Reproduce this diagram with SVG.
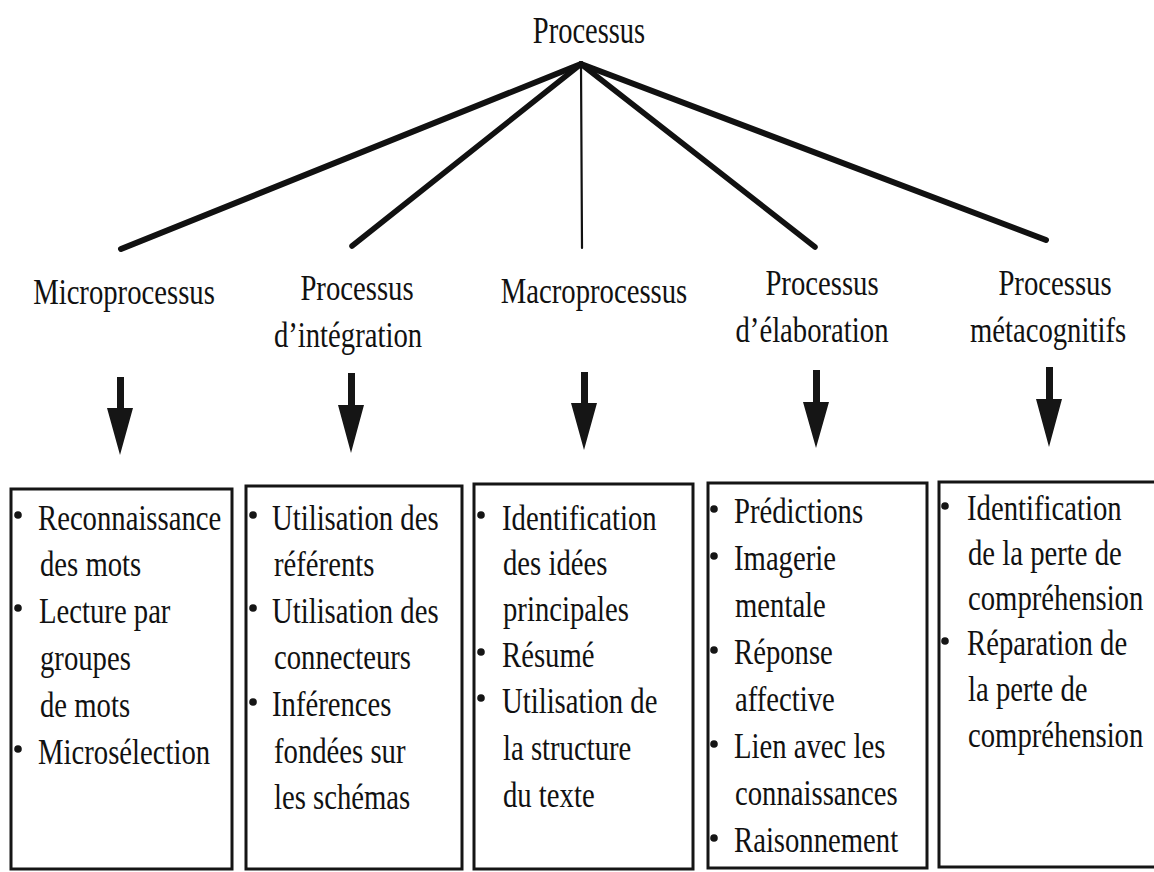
<svg xmlns="http://www.w3.org/2000/svg" width="1154" height="872" viewBox="0 0 1154 872">
<style>
.t{font-family:"Liberation Serif","Times New Roman",serif;font-size:35px;fill:#111}
.top{font-size:37px}
.c{text-anchor:middle}
.box{fill:none;stroke:#151515;stroke-width:3}
.b{fill:#151515}
.ln{stroke:#111;stroke-linecap:round;fill:none}
.arr{fill:#151515}
</style>
<rect width="1154" height="872" fill="#fff"/>
<g id="connectors">
<line class="ln" x1="581" y1="64" x2="121" y2="249" stroke-width="6"/>
<line class="ln" x1="581" y1="64" x2="352" y2="246" stroke-width="5.5"/>
<line class="ln" x1="581" y1="64" x2="582" y2="248" stroke-width="2.2"/>
<line class="ln" x1="581" y1="64" x2="815" y2="247" stroke-width="5.5"/>
<line class="ln" x1="581" y1="64" x2="1046" y2="240" stroke-width="6"/>
<path class="arr" d="M117 377h7v31h9l-13 47l-13-47h10z"/>
<path class="arr" d="M348 373h7v32h9l-13 48l-13-48h10z"/>
<path class="arr" d="M581 372h7v31h9l-13 47l-13-47h10z"/>
<path class="arr" d="M813 370h7v32h9l-13 46l-13-46h10z"/>
<path class="arr" d="M1046 367h7v32h9l-13 48l-13-48h10z"/>
</g>
<g id="root">
<text class="t top c" transform="translate(589,43) scale(0.77,1)">Processus</text>
</g>
<g id="micro">
<text class="t c" transform="translate(124,304) scale(0.82,1)">Microprocessus</text>
<rect class="box" x="11" y="489" width="221" height="380"/>
<circle class="b" cx="18" cy="515" r="3.8"/>
<circle class="b" cx="18" cy="608" r="3.8"/>
<circle class="b" cx="18" cy="749" r="3.8"/>
<text class="t" transform="translate(38,530) scale(0.82,1)">Reconnaissance</text>
<text class="t" transform="translate(40,576) scale(0.82,1)">des mots</text>
<text class="t" transform="translate(39,623) scale(0.82,1)">Lecture par</text>
<text class="t" transform="translate(40,670) scale(0.82,1)">groupes</text>
<text class="t" transform="translate(40,717) scale(0.82,1)">de mots</text>
<text class="t" transform="translate(38,764) scale(0.82,1)">Microsélection</text>
</g>
<g id="integration">
<text class="t c" transform="translate(357,300) scale(0.82,1)">Processus</text>
<text class="t c" transform="translate(348,347) scale(0.82,1)">d’intégration</text>
<rect class="box" x="246" y="486" width="216" height="383"/>
<circle class="b" cx="253" cy="515" r="3.8"/>
<circle class="b" cx="253" cy="608" r="3.8"/>
<circle class="b" cx="253" cy="702" r="3.8"/>
<text class="t" transform="translate(272,530) scale(0.82,1)">Utilisation des</text>
<text class="t" transform="translate(274,576) scale(0.82,1)">référents</text>
<text class="t" transform="translate(272,623) scale(0.82,1)">Utilisation des</text>
<text class="t" transform="translate(274,669) scale(0.82,1)">connecteurs</text>
<text class="t" transform="translate(272,716) scale(0.82,1)">Inférences</text>
<text class="t" transform="translate(274,763) scale(0.82,1)">fondées sur</text>
<text class="t" transform="translate(274,809) scale(0.82,1)">les schémas</text>
</g>
<g id="macro">
<text class="t c" transform="translate(594,303) scale(0.82,1)">Macroprocessus</text>
<rect class="box" x="474" y="484" width="219" height="385"/>
<circle class="b" cx="481" cy="515" r="3.8"/>
<circle class="b" cx="481" cy="652" r="3.8"/>
<circle class="b" cx="481" cy="698" r="3.8"/>
<text class="t" transform="translate(502,530) scale(0.82,1)">Identification</text>
<text class="t" transform="translate(503,575) scale(0.82,1)">des idées</text>
<text class="t" transform="translate(503,621) scale(0.82,1)">principales</text>
<text class="t" transform="translate(502,667) scale(0.82,1)">Résumé</text>
<text class="t" transform="translate(502,713) scale(0.82,1)">Utilisation de</text>
<text class="t" transform="translate(503,760) scale(0.82,1)">la structure</text>
<text class="t" transform="translate(503,807) scale(0.82,1)">du texte</text>
</g>
<g id="elaboration">
<text class="t c" transform="translate(822,295) scale(0.82,1)">Processus</text>
<text class="t c" transform="translate(812,342) scale(0.82,1)">d’élaboration</text>
<rect class="box" x="708" y="483" width="219" height="385"/>
<circle class="b" cx="714" cy="509" r="3.8"/>
<circle class="b" cx="714" cy="556" r="3.8"/>
<circle class="b" cx="714" cy="650" r="3.8"/>
<circle class="b" cx="714" cy="744" r="3.8"/>
<circle class="b" cx="714" cy="838" r="3.8"/>
<text class="t" transform="translate(734,523) scale(0.82,1)">Prédictions</text>
<text class="t" transform="translate(734,570) scale(0.82,1)">Imagerie</text>
<text class="t" transform="translate(735,617) scale(0.82,1)">mentale</text>
<text class="t" transform="translate(734,664) scale(0.82,1)">Réponse</text>
<text class="t" transform="translate(735,711) scale(0.82,1)">affective</text>
<text class="t" transform="translate(734,758) scale(0.82,1)">Lien avec les</text>
<text class="t" transform="translate(735,805) scale(0.82,1)">connaissances</text>
<text class="t" transform="translate(734,852) scale(0.82,1)">Raisonnement</text>
</g>
<g id="metacognitifs">
<text class="t c" transform="translate(1055,295) scale(0.82,1)">Processus</text>
<text class="t c" transform="translate(1048,342) scale(0.82,1)">métacognitifs</text>
<rect class="box" x="939" y="482" width="230" height="385"/>
<circle class="b" cx="945" cy="506" r="3.8"/>
<circle class="b" cx="945" cy="641" r="3.8"/>
<text class="t" transform="translate(967,520) scale(0.82,1)">Identification</text>
<text class="t" transform="translate(968,565) scale(0.82,1)">de la perte de</text>
<text class="t" transform="translate(968,610) scale(0.82,1)">compréhension</text>
<text class="t" transform="translate(967,655) scale(0.82,1)">Réparation de</text>
<text class="t" transform="translate(968,701) scale(0.82,1)">la perte de</text>
<text class="t" transform="translate(968,747) scale(0.82,1)">compréhension</text>
</g>
</svg>
